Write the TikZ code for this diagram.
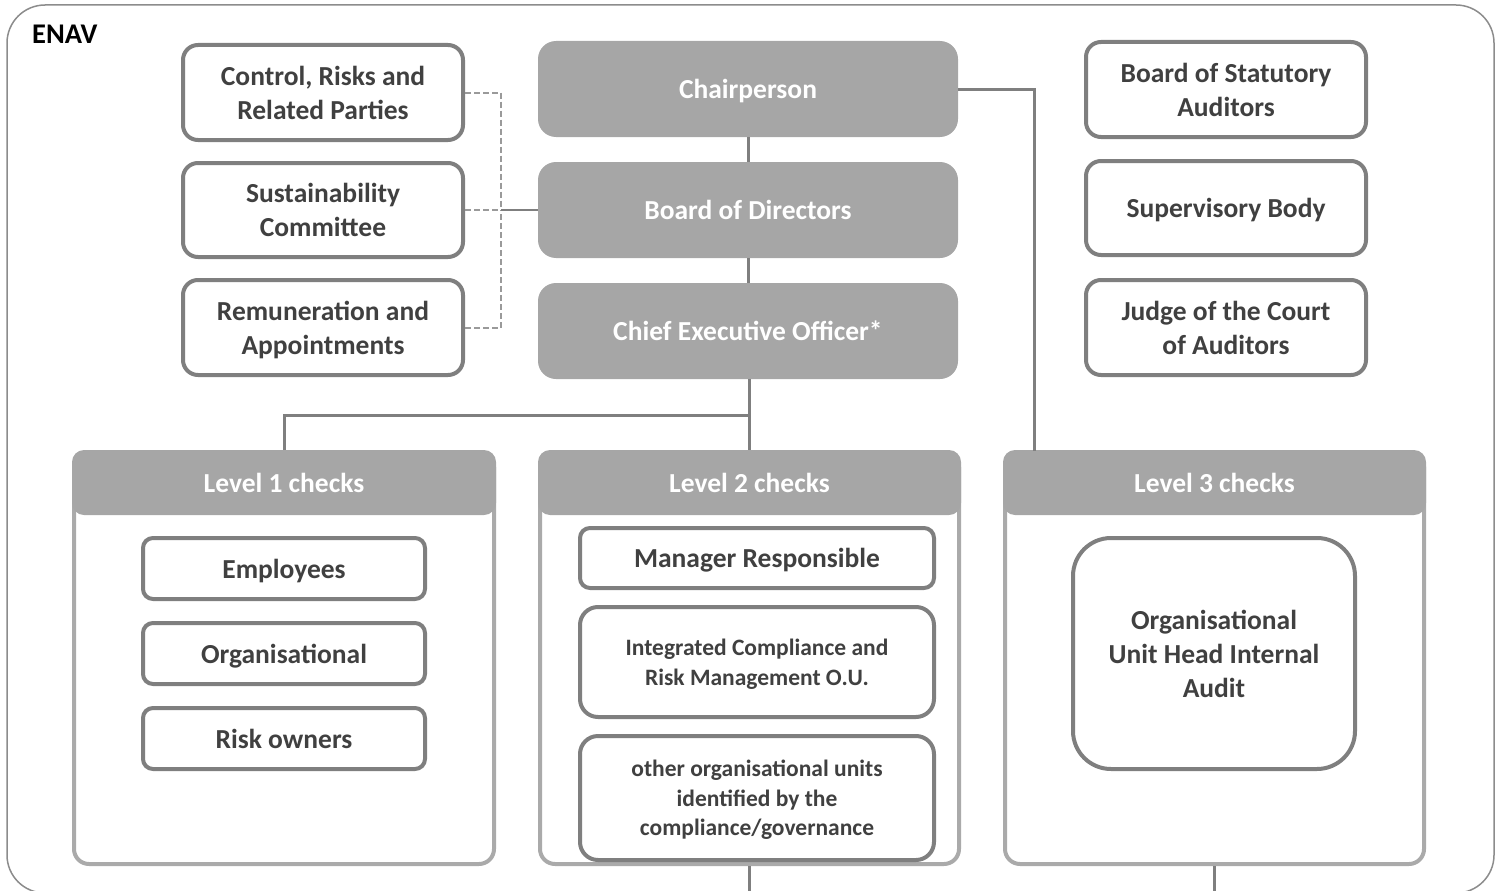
\documentclass[tikz,border=0pt]{standalone}
\usepackage{fontspec}
\setmainfont{Carlito}
\definecolor{boxgray}{HTML}{7F7F7F}
\definecolor{hdrgray}{HTML}{A6A6A6}
\definecolor{panelgray}{HTML}{AAAAAA}
\definecolor{txtgray}{HTML}{404040}
\definecolor{framegray}{HTML}{8C8C8C}
\definecolor{dashgray}{HTML}{9A9A9A}
\tikzset{
  base/.style={align=center, inner sep=0pt, text depth=0pt, font=\bfseries\fontsize{27.5}{34}\selectfont},
  lower/.style={execute at begin node={\rule{0pt}{25.5pt}}},
  outlinebox/.style={base, draw=boxgray, line width=4pt, fill=white, text=txtgray, rounded corners=15pt},
  filledbox/.style={base, fill=hdrgray, text=white, rounded corners=18pt},
  panelbox/.style={draw=panelgray, line width=4pt, rounded corners=15pt, inner sep=0pt},
  hdrbox/.style={base, fill=hdrgray, text=white, rounded corners=12pt},
  conn/.style={draw=boxgray, line width=3pt},
  dashconn/.style={draw=dashgray, line width=2pt, dash pattern=on 6pt off 3pt},
  small/.style={font=\bfseries\fontsize{23.5}{29.5}\selectfont}
}
\begin{document}
\begin{tikzpicture}[x=1pt,y=-1pt]
\useasboundingbox (0,0) rectangle (1502,891);
\clip (0,0) rectangle (1502,891);
% outer frame
\draw[framegray, line width=1.5pt, rounded corners=38pt] (7,5) rectangle (1494,893);
\node[base, text=black, anchor=west, font=\bfseries\fontsize{28.5}{32}\selectfont] (enav) at (32,34) {ENAV};

% level panels
\node[panelbox, minimum width=420pt, minimum height=412pt] (L1) at (284,658) {};
\node[panelbox, minimum width=419pt, minimum height=412pt] (L2) at (749.5,658) {};
\node[panelbox, minimum width=419pt, minimum height=412pt] (L3) at (1214.5,658) {};
\node[hdrbox, minimum width=424pt, minimum height=65pt] (H1) at (284,482.5) {Level 1 checks};
\node[hdrbox, minimum width=423pt, minimum height=65pt] (H2) at (749.5,482.5) {Level 2 checks};
\node[hdrbox, minimum width=423pt, minimum height=65pt] (H3) at (1214.5,482.5) {Level 3 checks};

% committees
\node[outlinebox, lower, minimum width=280pt, minimum height=95pt] (C1) at (323,92.5) {Control, Risks and\\Related Parties};
\node[outlinebox, lower, minimum width=280pt, minimum height=94pt] (C2) at (323,210) {Sustainability\\Committee};
\node[outlinebox, lower, minimum width=280pt, minimum height=95pt] (C3) at (323,327.5) {Remuneration and\\Appointments};

% centre column
\node[filledbox, minimum width=420pt, minimum height=96pt] (chair) at (748,89) {Chairperson};
\node[filledbox, minimum width=420pt, minimum height=96pt] (board) at (748,210) {Board of Directors};
\node[filledbox, minimum width=420pt, minimum height=96pt] (ceo) at (748,331) {Chief Executive Officer*};

% right column
\node[outlinebox, lower, minimum width=280pt, minimum height=95pt] (R1) at (1226,89.5) {Board of Statutory\\Auditors};
\node[outlinebox, minimum width=280pt, minimum height=94pt] (R2) at (1226,208) {Supervisory Body};
\node[outlinebox, lower, minimum width=280pt, minimum height=95pt] (R3) at (1226,327.5) {Judge of the Court\\of Auditors};

% level 1 contents
\node[outlinebox, rounded corners=10pt, minimum width=282pt, minimum height=61pt] (E1) at (284,568.5) {Employees};
\node[outlinebox, rounded corners=10pt, minimum width=282pt, minimum height=61pt] (E2) at (284,653.5) {Organisational};
\node[outlinebox, rounded corners=10pt, minimum width=282pt, minimum height=61pt] (E3) at (284,738.5) {Risk owners};

% level 2 contents
\node[outlinebox, rounded corners=10pt, minimum width=354pt, minimum height=60pt] (M1) at (757,558) {Manager Responsible};
\node[outlinebox, small, rounded corners=18pt, minimum width=354pt, minimum height=110pt] (M2) at (757,662) {Integrated Compliance and\\Risk Management O.U.};
\node[outlinebox, small, rounded corners=18pt, minimum width=354pt, minimum height=124pt] (M3) at (757,798) {other organisational units\\identified by the\\compliance/governance};

% level 3 contents
\node[outlinebox, rounded corners=38pt, minimum width=282pt, minimum height=231pt] (A1) at (1214,653.5) {Organisational\\Unit Head Internal\\Audit};

% connectors
\coordinate (jl) at (749,415);
\coordinate (c3) at (1034,451);
\coordinate (dj) at (501,210);
\coordinate (b2) at (749,891);
\coordinate (b3) at (1214,891);
\draw[conn] (chair) -- (board);
\draw[conn] (board) -- (ceo);
\draw[conn] (ceo.south -| jl) -- (H2.north -| jl);
\draw[conn] (H1.north) |- (jl);
\draw[conn] (chair.east) -| (c3);
\draw[dashconn] (C1.east) -| (dj);
\draw[dashconn] (C3.east) -| (dj);
\draw[dashconn] (C2.east) -- (dj);
\draw[conn, line width=2.5pt] (dj) -- (board.west);
\draw[conn] (L2.south -| b2) -- (b2);
\draw[conn] (L3.south -| b3) -- (b3);
\end{tikzpicture}
\end{document}
